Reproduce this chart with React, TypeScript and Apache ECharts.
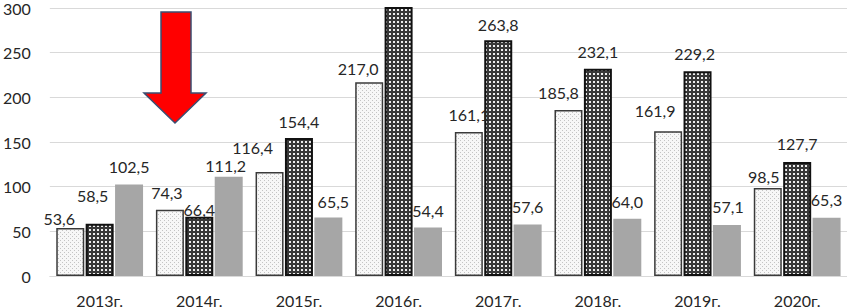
import React, { useEffect, useRef } from "react";
import * as echarts from "echarts";

const categories = ["2013г.", "2014г.", "2015г.", "2016г.", "2017г.", "2018г.", "2019г.", "2020г."];
const seriesA = [53.6, 74.3, 116.4, 217.0, 161.1, 185.8, 161.9, 98.5];
const seriesB = [58.5, 66.4, 154.4, 301.0, 263.8, 232.1, 229.2, 127.7];
const seriesC = [102.5, 111.2, 65.5, 54.4, 57.6, 64.0, 57.1, 65.3];
const yMin = 0;
const yMax = 300;
const yStep = 50;

// manual label nudges [dx, dy] (layout only)
const nudgeA = [[-11, 8], [-3, 1], [-17, -7], [-11, 4], [0, 0], [-10, 0], [-13, -3], [-4, 6]];
const nudgeB = [[-7, -10], [0, 11], [0, 1], [0, 0], [0, 2], [0, 1], [-3, 0], [0, 0]];
const nudgeC = [[0, 0], [-3, 7], [5, 2], [0, 1], [0, 0], [0, 1], [1, 0], [0, 0]];
const hiddenB = [3];

const FONT = "Lato, 'Open Sans', 'DejaVu Sans', sans-serif";

function tile(size: number, bg: string, dots: Array<[number, number, number, number, string]>): string {
  const c = document.createElement("canvas");
  c.width = size;
  c.height = size;
  const ctx = c.getContext("2d")!;
  ctx.fillStyle = bg;
  ctx.fillRect(0, 0, size, size);
  dots.forEach(([x, y, w, h, col]) => {
    ctx.fillStyle = col;
    ctx.fillRect(x, y, w, h);
  });
  return c.toDataURL("image/png");
}

const fmt = (v: number) => v.toFixed(1).replace(".", ",");

export default function App() {
  const ref = useRef<HTMLDivElement>(null);
  useEffect(() => {
    document.body.style.margin = "0";
    if (!ref.current) return;
    const chart = echarts.init(ref.current, null, { renderer: "svg" });

    const patA = {
      image: tile(4, "#f7f7f7", [[0, 0, 1, 1, "#c4c4c4"], [2, 2, 1, 1, "#c4c4c4"]]),
      repeat: "repeat",
      imageWidth: 4,
      imageHeight: 4,
    };
    const patB = {
      image: tile(4, "#383838", [[1, 1, 2, 2, "#eeeeee"]]),
      repeat: "repeat",
      imageWidth: 4,
      imageHeight: 4,
    };

    const labelBase = {
      show: true,
      position: "top",
      distance: 10,
      fontFamily: FONT,
      fontSize: 16,
      color: "#262626",
      formatter: (p: any) => fmt(p.value),
    };

    const build = (vals: number[], nudges: number[][], hidden: number[] = []) =>
      vals.map((v, i) => ({
        value: v,
        label: hidden.includes(i) ? { show: false } : { offset: nudges[i] },
      }));

    chart.setOption({
      animation: false,
      grid: { left: 45.6, top: 6, width: 806, bottom: 31, containLabel: false },
      graphic: [
        {
          type: "polygon",
          z: 100,
          shape: {
            points: [
              [161, 12],
              [191, 12],
              [191, 93],
              [206, 93],
              [175, 123],
              [144, 93],
              [161, 93],
            ],
          },
          style: { fill: "#ff0000", stroke: "#3b4e72", lineWidth: 1.5 },
        },
      ],
      xAxis: {
        type: "category",
        data: categories,
        axisLine: { show: true, lineStyle: { color: "#d9d9d9", width: 1 } },
        axisTick: { show: false },
        axisLabel: { fontFamily: FONT, fontSize: 16, color: "#262626", margin: 16 },
      },
      yAxis: {
        type: "value",
        min: yMin,
        max: yMax,
        interval: yStep,
        axisLine: { show: false },
        axisTick: { show: false },
        splitLine: { lineStyle: { color: "#d9d9d9", width: 1 } },
        axisLabel: { fontFamily: FONT, fontSize: 16, color: "#262626", margin: 19 },
      },
      series: [
        {
          type: "bar",
          data: build(seriesA, nudgeA),
          barWidth: 28,
          barGap: "5%",
          clip: false,
          itemStyle: { color: patA, borderColor: "#3a3a3a", borderWidth: 1.5 },
          label: labelBase,
        },
        {
          type: "bar",
          data: build(seriesB, nudgeB, hiddenB),
          barWidth: 28,
          barGap: "5%",
          clip: false,
          itemStyle: { color: patB, borderColor: "#111111", borderWidth: 2 },
          label: labelBase,
        },
        {
          type: "bar",
          data: build(seriesC, nudgeC),
          barWidth: 28,
          barGap: "5%",
          clip: false,
          itemStyle: { color: "#a6a6a6" },
          label: labelBase,
        },
      ],
    });
    return () => chart.dispose();
  }, []);
  return <div ref={ref} style={{ width: 847, height: 308 }} />;
}
